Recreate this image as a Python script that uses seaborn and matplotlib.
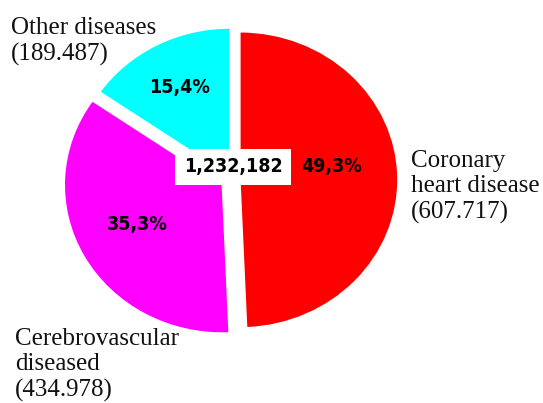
import numpy as np
import matplotlib.pyplot as plt
import seaborn as sns

causes = ['Coronary\nheart disease', 'Cerebrovascular\ndiseased', 'Other diseases']
deaths = [607717, 434978, 189487]
shown_counts = ['607.717', '434.978', '189.487']
colors = ['#ff0000', '#ff00ff', '#00ffff']

sns.set_theme(style='white')
plt.rcParams['font.family'] = ['DejaVu Sans']

fig = plt.figure(figsize=(5.43, 4.03), dpi=100)
ax = fig.add_axes([0, 0, 1, 1])

bold = dict(fontsize=14, fontweight='bold', fontstretch='condensed', color='black')

explode = [0.05, 0.07, 0.03]
wedges, texts, autotexts = ax.pie(
    deaths, colors=colors, explode=explode, startangle=90, counterclock=False,
    autopct=lambda p: f'{p:.1f}%'.replace('.', ','), textprops=bold)

# move the percentages to where they sit in the original
pct_dist = [0.59, 0.60, 0.68]
pct_turn = [7.5, -2.5, 0.5]
for w, t, d, a in zip(wedges, autotexts, pct_dist, pct_turn):
    ang = np.deg2rad((w.theta1 + w.theta2) / 2 + a)
    cx, cy = w.center
    t.set_position((cx + d * np.cos(ang), cy + d * np.sin(ang)))

ax.text(0.006, 0.088, f'{sum(deaths):,}', ha='center', va='center',
        bbox=dict(boxstyle='square,pad=0.45', fc='white', ec='none'), **bold)

ax.set_aspect('auto')
ax.set_xlim(-232 / 158, (543 - 232) / 158)
ax.set_ylim(-(403 - 180) / 148, 180 / 148)
ax.axis('off')

# outside labels, serif like the source
serif = ['Liberation Serif', 'DejaVu Serif']
label_pos = [(411, 150), (15, 328), (11, 17)]
for name, cnt, (px, py) in zip(causes, shown_counts, label_pos):
    fig.text(px / 543, 1 - py / 403, f'{name}\n({cnt})', ha='left', va='top',
             fontsize=18, family=serif, color='#111111', linespacing=1.2)

fig.savefig('out.png', dpi=100)
